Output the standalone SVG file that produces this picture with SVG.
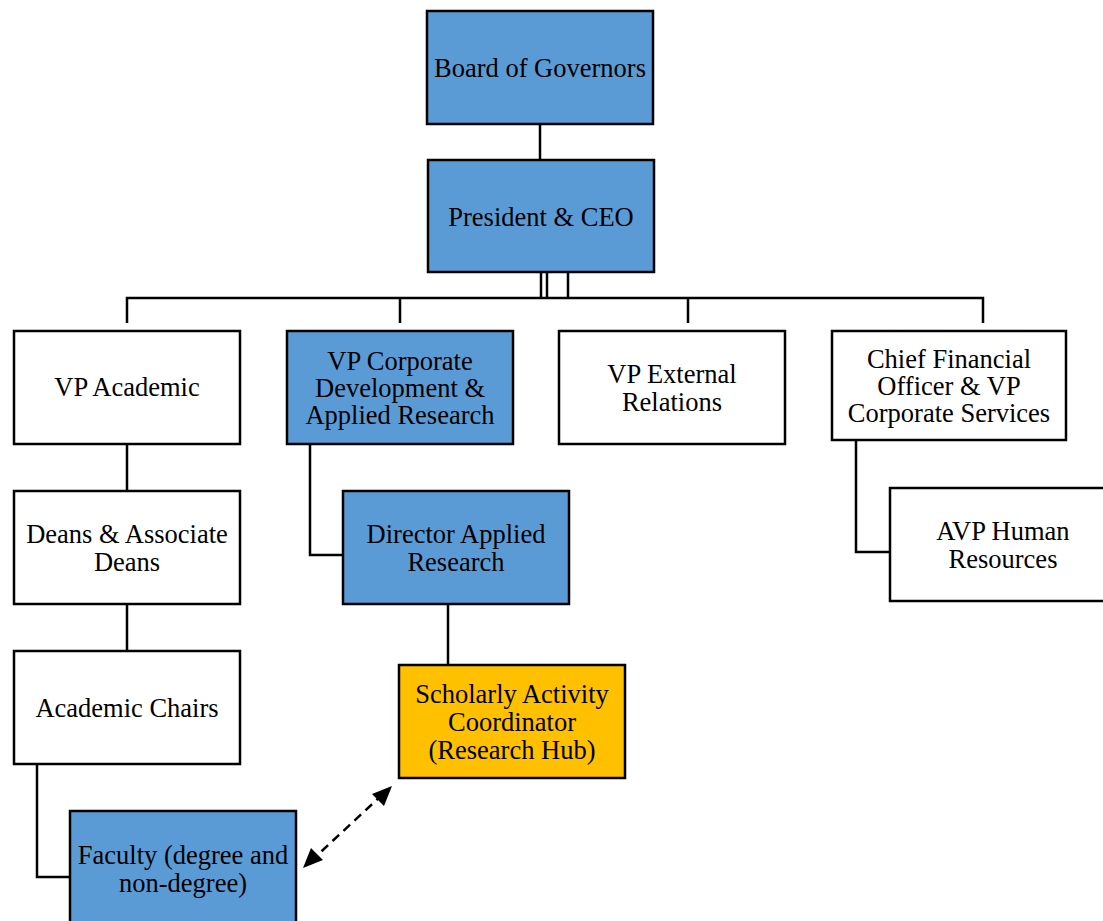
<svg xmlns="http://www.w3.org/2000/svg" width="1103" height="921" viewBox="0 0 1103 921">
<style>
.box{stroke:#000;stroke-width:2.5}
.w{fill:#fff}.b{fill:#5B9BD5}.g{fill:#FFC000}
.t{font-family:"Liberation Serif","Times New Roman",serif;font-size:26.5px;fill:#000;text-anchor:middle}
.ln{fill:none;stroke:#000;stroke-width:2.5}
.da{fill:none;stroke:#000;stroke-width:2.5;stroke-dasharray:9,6}
</style>
<rect width="1103" height="921" fill="#fff"/>
<g id="connectors">
<path class="ln" d="M540,124V160"/>
<path class="ln" d="M541,272V298M547,272V298M568,272V298"/>
<path class="ln" d="M127,323V298H983V323M400,298V323M688,298V323"/>
<path class="ln" d="M127,444V491M127,604V651"/>
<path class="ln" d="M37,764V877H70"/>
<path class="ln" d="M310,444V555H343"/>
<path class="ln" d="M448,604V665"/>
<path class="ln" d="M856,440V552H890"/>
<path class="da" d="M383,794L310,862"/>
<path d="M392,786L372,794L384,806Z M303,868L323,860L311,848Z" fill="#000"/>
</g>
<g id="board"><rect class="box b" x="427" y="11" width="226" height="113"/><text class="t" x="540" y="77">Board of Governors</text></g>
<g id="president"><rect class="box b" x="428" y="160" width="226" height="112"/><text class="t" x="541" y="226">President &amp; CEO</text></g>
<g id="vp-academic"><rect class="box w" x="14" y="331" width="226" height="113"/><text class="t" x="127" y="396">VP Academic</text></g>
<g id="vp-corporate"><rect class="box b" x="287" y="331" width="226" height="113"/><text class="t" x="400" y="370">VP Corporate</text><text class="t" x="400" y="397">Development &amp;</text><text class="t" x="400" y="424">Applied Research</text></g>
<g id="vp-external"><rect class="box w" x="559" y="331" width="226" height="113"/><text class="t" x="672" y="383">VP External</text><text class="t" x="672" y="411">Relations</text></g>
<g id="cfo"><rect class="box w" x="832" y="331" width="234" height="109"/><text class="t" x="949" y="368">Chief Financial</text><text class="t" x="949" y="395">Officer &amp; VP</text><text class="t" x="949" y="422">Corporate Services</text></g>
<g id="deans"><rect class="box w" x="14" y="491" width="226" height="113"/><text class="t" x="127" y="543">Deans &amp; Associate</text><text class="t" x="127" y="571">Deans</text></g>
<g id="director"><rect class="box b" x="343" y="491" width="226" height="113"/><text class="t" x="456" y="543">Director Applied</text><text class="t" x="456" y="571">Research</text></g>
<g id="avp-hr"><rect class="box w" x="890" y="488" width="226" height="113"/><text class="t" x="1003" y="540">AVP Human</text><text class="t" x="1003" y="568">Resources</text></g>
<g id="chairs"><rect class="box w" x="14" y="651" width="226" height="113"/><text class="t" x="127" y="717">Academic Chairs</text></g>
<g id="scholarly"><rect class="box g" x="399" y="665" width="226" height="113"/><text class="t" x="512" y="703">Scholarly Activity</text><text class="t" x="512" y="731">Coordinator</text><text class="t" x="512" y="759">(Research Hub)</text></g>
<g id="faculty"><rect class="box b" x="70" y="811" width="226" height="124"/><text class="t" x="183" y="864">Faculty (degree and</text><text class="t" x="183" y="892">non-degree)</text></g>
</svg>
